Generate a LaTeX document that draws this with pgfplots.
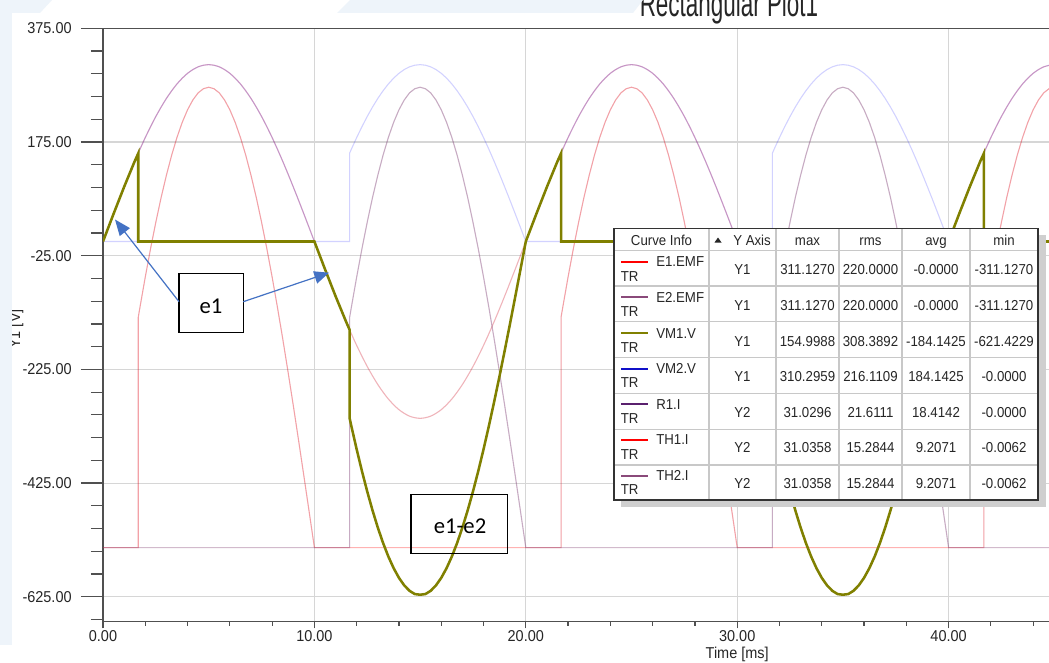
\documentclass[border=0pt]{standalone}
\usepackage{pgfplots}
\pgfplotsset{compat=1.18}
\usepackage{pgfplotstable}
\usepackage{fontspec}
\setmainfont{Liberation Sans}[FakeStretch=0.92]
\newfontfamily\calib{Carlito}
\usetikzlibrary{arrows.meta}

\definecolor{axisgray}{HTML}{505050}
\definecolor{gridgray}{HTML}{D6D6D6}
\definecolor{olivec}{HTML}{808000}
\definecolor{mauve}{HTML}{8A4A7A}
\definecolor{rpurple}{HTML}{5A206E}
\definecolor{vblue}{HTML}{1E1EFF}
\definecolor{lblue}{HTML}{1010C8}
\definecolor{arrowblue}{HTML}{4472C4}
\definecolor{bgblue}{HTML}{EEF4FA}
\definecolor{tgrid}{HTML}{C8C8C8}

\newcommand{\tickfont}{\fontsize{11.8pt}{13pt}\selectfont}
\newcommand{\tabfont}{\fontsize{10.8pt}{12pt}\selectfont}

% E1.EMF and E2.EMF (V)
\pgfplotstableread[row sep=\\]{
t e1 e2\\
0 0 0\\ 0.5 48.67 48.67\\ 1 96.14 96.14\\ 1.5 141.25 141.25\\ 2 182.87 182.87\\
2.5 220.00 220.00\\ 3 251.71 251.71\\ 3.5 277.21 277.21\\ 4 295.90 295.90\\ 4.5 307.30 307.30\\
5 311.13 311.13\\ 5.5 307.30 307.30\\ 6 295.90 295.90\\ 6.5 277.21 277.21\\ 7 251.71 251.71\\
7.5 220.00 220.00\\ 8 182.87 182.87\\ 8.5 141.25 141.25\\ 9 96.14 96.14\\ 9.5 48.67 48.67\\
10 0 0\\ 10.5 -48.67 -48.67\\ 11 -96.14 -96.14\\ 11.5 -141.25 -141.25\\ 12 -182.87 -182.87\\
12.5 -220.00 -220.00\\ 13 -251.71 -251.71\\ 13.5 -277.21 -277.21\\ 14 -295.90 -295.90\\ 14.5 -307.30 -307.30\\
15 -311.13 -311.13\\ 15.5 -307.30 -307.30\\ 16 -295.90 -295.90\\ 16.5 -277.21 -277.21\\ 17 -251.71 -251.71\\
17.5 -220.00 -220.00\\ 18 -182.87 -182.87\\ 18.5 -141.25 -141.25\\ 19 -96.14 -96.14\\ 19.5 -48.67 -48.67\\
20 0 0\\ 20.5 48.67 48.67\\ 21 96.14 96.14\\ 21.5 141.25 141.25\\ 22 182.87 182.87\\
22.5 220.00 220.00\\ 23 251.71 251.71\\ 23.5 277.21 277.21\\ 24 295.90 295.90\\ 24.5 307.30 307.30\\
25 311.13 311.13\\ 25.5 307.30 307.30\\ 26 295.90 295.90\\ 26.5 277.21 277.21\\ 27 251.71 251.71\\
27.5 220.00 220.00\\ 28 182.87 182.87\\ 28.5 141.25 141.25\\ 29 96.14 96.14\\ 29.5 48.67 48.67\\
30 0 0\\ 30.5 -48.67 -48.67\\ 31 -96.14 -96.14\\ 31.5 -141.25 -141.25\\ 32 -182.87 -182.87\\
32.5 -220.00 -220.00\\ 33 -251.71 -251.71\\ 33.5 -277.21 -277.21\\ 34 -295.90 -295.90\\ 34.5 -307.30 -307.30\\
35 -311.13 -311.13\\ 35.5 -307.30 -307.30\\ 36 -295.90 -295.90\\ 36.5 -277.21 -277.21\\ 37 -251.71 -251.71\\
37.5 -220.00 -220.00\\ 38 -182.87 -182.87\\ 38.5 -141.25 -141.25\\ 39 -96.14 -96.14\\ 39.5 -48.67 -48.67\\
40 0 0\\ 40.5 48.67 48.67\\ 41 96.14 96.14\\ 41.5 141.25 141.25\\ 42 182.87 182.87\\
42.5 220.00 220.00\\ 43 251.71 251.71\\ 43.5 277.21 277.21\\ 44 295.90 295.90\\ 44.5 307.30 307.30\\
45 311.13 311.13\\
}\emf

% VM2.V (V)
\pgfplotstableread[row sep=\\]{
t v\\
0 0\\ 1.667 0\\
1.667 155.56\\ 1.75 162.56\\ 2 182.87\\ 2.25 202.06\\ 2.5 220.00\\ 2.75 236.58\\ 3 251.71\\ 3.25 265.28\\ 3.5 277.21\\ 3.75 287.44\\ 4 295.90\\ 4.25 302.53\\ 4.5 307.30\\ 4.75 310.17\\ 5 311.13\\ 5.25 310.17\\ 5.5 307.30\\ 5.75 302.53\\ 6 295.90\\ 6.25 287.44\\ 6.5 277.21\\ 6.75 265.28\\ 7 251.71\\ 7.25 236.58\\ 7.5 220.00\\ 7.75 202.06\\ 8 182.87\\ 8.25 162.56\\ 8.5 141.25\\ 8.75 119.06\\ 9 96.14\\ 9.25 72.63\\ 9.5 48.67\\ 9.75 24.41\\ 10 0\\
11.667 0\\
11.667 155.56\\ 11.75 162.56\\ 12 182.87\\ 12.25 202.06\\ 12.5 220.00\\ 12.75 236.58\\ 13 251.71\\ 13.25 265.28\\ 13.5 277.21\\ 13.75 287.44\\ 14 295.90\\ 14.25 302.53\\ 14.5 307.30\\ 14.75 310.17\\ 15 311.13\\ 15.25 310.17\\ 15.5 307.30\\ 15.75 302.53\\ 16 295.90\\ 16.25 287.44\\ 16.5 277.21\\ 16.75 265.28\\ 17 251.71\\ 17.25 236.58\\ 17.5 220.00\\ 17.75 202.06\\ 18 182.87\\ 18.25 162.56\\ 18.5 141.25\\ 18.75 119.06\\ 19 96.14\\ 19.25 72.63\\ 19.5 48.67\\ 19.75 24.41\\ 20 0\\
21.667 0\\
21.667 155.56\\ 21.75 162.56\\ 22 182.87\\ 22.25 202.06\\ 22.5 220.00\\ 22.75 236.58\\ 23 251.71\\ 23.25 265.28\\ 23.5 277.21\\ 23.75 287.44\\ 24 295.90\\ 24.25 302.53\\ 24.5 307.30\\ 24.75 310.17\\ 25 311.13\\ 25.25 310.17\\ 25.5 307.30\\ 25.75 302.53\\ 26 295.90\\ 26.25 287.44\\ 26.5 277.21\\ 26.75 265.28\\ 27 251.71\\ 27.25 236.58\\ 27.5 220.00\\ 27.75 202.06\\ 28 182.87\\ 28.25 162.56\\ 28.5 141.25\\ 28.75 119.06\\ 29 96.14\\ 29.25 72.63\\ 29.5 48.67\\ 29.75 24.41\\ 30 0\\
31.667 0\\
31.667 155.56\\ 31.75 162.56\\ 32 182.87\\ 32.25 202.06\\ 32.5 220.00\\ 32.75 236.58\\ 33 251.71\\ 33.25 265.28\\ 33.5 277.21\\ 33.75 287.44\\ 34 295.90\\ 34.25 302.53\\ 34.5 307.30\\ 34.75 310.17\\ 35 311.13\\ 35.25 310.17\\ 35.5 307.30\\ 35.75 302.53\\ 36 295.90\\ 36.25 287.44\\ 36.5 277.21\\ 36.75 265.28\\ 37 251.71\\ 37.25 236.58\\ 37.5 220.00\\ 37.75 202.06\\ 38 182.87\\ 38.25 162.56\\ 38.5 141.25\\ 38.75 119.06\\ 39 96.14\\ 39.25 72.63\\ 39.5 48.67\\ 39.75 24.41\\ 40 0\\
41.667 0\\
41.667 155.56\\ 41.75 162.56\\ 42 182.87\\ 42.25 202.06\\ 42.5 220.00\\ 42.75 236.58\\ 43 251.71\\ 43.25 265.28\\ 43.5 277.21\\ 43.75 287.44\\ 44 295.90\\ 44.25 302.53\\ 44.5 307.30\\ 44.75 310.17\\ 45 311.13\\
}\vmtwo

% VM1.V (V)
\pgfplotstableread[row sep=\\]{
t v\\
0 0\\ 0.5 48.67\\ 1 96.14\\ 1.5 141.25\\ 1.667 155.00\\ 1.667 0\\
10 0\\ 10.5 -48.67\\ 11 -96.14\\ 11.5 -141.25\\ 11.667 -155.56\\
11.667 -311.13\\ 11.75 -325.13\\ 12 -365.75\\ 12.25 -404.12\\ 12.5 -440.00\\ 12.75 -473.17\\ 13 -503.41\\ 13.25 -530.56\\ 13.5 -554.43\\ 13.75 -574.89\\ 14 -591.80\\ 14.25 -605.07\\ 14.5 -614.60\\ 14.75 -620.34\\ 15 -621.42\\ 15.25 -620.34\\ 15.5 -614.60\\ 15.75 -605.07\\ 16 -591.80\\ 16.25 -574.89\\ 16.5 -554.43\\ 16.75 -530.56\\ 17 -503.41\\ 17.25 -473.17\\ 17.5 -440.00\\ 17.75 -404.12\\ 18 -365.75\\ 18.25 -325.13\\ 18.5 -282.50\\ 18.75 -238.13\\ 19 -192.28\\ 19.25 -145.26\\ 19.5 -97.35\\ 19.75 -48.82\\ 20 0\\
20.5 48.67\\ 21 96.14\\ 21.5 141.25\\ 21.667 155.00\\ 21.667 0\\
30 0\\ 30.5 -48.67\\ 31 -96.14\\ 31.5 -141.25\\ 31.667 -155.56\\
31.667 -311.13\\ 31.75 -325.13\\ 32 -365.75\\ 32.25 -404.12\\ 32.5 -440.00\\ 32.75 -473.17\\ 33 -503.41\\ 33.25 -530.56\\ 33.5 -554.43\\ 33.75 -574.89\\ 34 -591.80\\ 34.25 -605.07\\ 34.5 -614.60\\ 34.75 -620.34\\ 35 -621.42\\ 35.25 -620.34\\ 35.5 -614.60\\ 35.75 -605.07\\ 36 -591.80\\ 36.25 -574.89\\ 36.5 -554.43\\ 36.75 -530.56\\ 37 -503.41\\ 37.25 -473.17\\ 37.5 -440.00\\ 37.75 -404.12\\ 38 -365.75\\ 38.25 -325.13\\ 38.5 -282.50\\ 38.75 -238.13\\ 39 -192.28\\ 39.25 -145.26\\ 39.5 -97.35\\ 39.75 -48.82\\ 40 0\\
40.5 48.67\\ 41 96.14\\ 41.5 141.25\\ 41.667 155.00\\ 41.667 0\\ 45 0\\
}\vmone

% TH1.I, TH2.I, R1.I (A), on Y2
\pgfplotstableread[row sep=\\]{
t th1 th2 r1\\
0 0 0 0\\ 1.667 0 0 0\\
1.667 15.52 0 15.52\\ 1.75 16.21 0 16.21\\ 2 18.24 0 18.24\\ 2.25 20.15 0 20.15\\ 2.5 21.94 0 21.94\\ 2.75 23.60 0 23.60\\ 3 25.10 0 25.10\\ 3.25 26.46 0 26.46\\ 3.5 27.65 0 27.65\\ 3.75 28.67 0 28.67\\ 4 29.51 0 29.51\\ 4.25 30.17 0 30.17\\ 4.5 30.65 0 30.65\\ 4.75 30.93 0 30.93\\ 5 31.03 0 31.03\\ 5.25 30.93 0 30.93\\ 5.5 30.65 0 30.65\\ 5.75 30.17 0 30.17\\ 6 29.51 0 29.51\\ 6.25 28.67 0 28.67\\ 6.5 27.65 0 27.65\\ 6.75 26.46 0 26.46\\ 7 25.10 0 25.10\\ 7.25 23.60 0 23.60\\ 7.5 21.94 0 21.94\\ 7.75 20.15 0 20.15\\ 8 18.24 0 18.24\\ 8.25 16.21 0 16.21\\ 8.5 14.09 0 14.09\\ 8.75 11.87 0 11.87\\ 9 9.59 0 9.59\\ 9.25 7.24 0 7.24\\ 9.5 4.85 0 4.85\\ 9.75 2.43 0 2.43\\ 10 0 0 0\\
11.667 0 0 0\\
11.667 0 15.52 15.52\\ 11.75 0 16.21 16.21\\ 12 0 18.24 18.24\\ 12.25 0 20.15 20.15\\ 12.5 0 21.94 21.94\\ 12.75 0 23.60 23.60\\ 13 0 25.10 25.10\\ 13.25 0 26.46 26.46\\ 13.5 0 27.65 27.65\\ 13.75 0 28.67 28.67\\ 14 0 29.51 29.51\\ 14.25 0 30.17 30.17\\ 14.5 0 30.65 30.65\\ 14.75 0 30.93 30.93\\ 15 0 31.03 31.03\\ 15.25 0 30.93 30.93\\ 15.5 0 30.65 30.65\\ 15.75 0 30.17 30.17\\ 16 0 29.51 29.51\\ 16.25 0 28.67 28.67\\ 16.5 0 27.65 27.65\\ 16.75 0 26.46 26.46\\ 17 0 25.10 25.10\\ 17.25 0 23.60 23.60\\ 17.5 0 21.94 21.94\\ 17.75 0 20.15 20.15\\ 18 0 18.24 18.24\\ 18.25 0 16.21 16.21\\ 18.5 0 14.09 14.09\\ 18.75 0 11.87 11.87\\ 19 0 9.59 9.59\\ 19.25 0 7.24 7.24\\ 19.5 0 4.85 4.85\\ 19.75 0 2.43 2.43\\ 20 0 0 0\\
21.667 0 0 0\\
21.667 15.52 0 15.52\\ 21.75 16.21 0 16.21\\ 22 18.24 0 18.24\\ 22.25 20.15 0 20.15\\ 22.5 21.94 0 21.94\\ 22.75 23.60 0 23.60\\ 23 25.10 0 25.10\\ 23.25 26.46 0 26.46\\ 23.5 27.65 0 27.65\\ 23.75 28.67 0 28.67\\ 24 29.51 0 29.51\\ 24.25 30.17 0 30.17\\ 24.5 30.65 0 30.65\\ 24.75 30.93 0 30.93\\ 25 31.03 0 31.03\\ 25.25 30.93 0 30.93\\ 25.5 30.65 0 30.65\\ 25.75 30.17 0 30.17\\ 26 29.51 0 29.51\\ 26.25 28.67 0 28.67\\ 26.5 27.65 0 27.65\\ 26.75 26.46 0 26.46\\ 27 25.10 0 25.10\\ 27.25 23.60 0 23.60\\ 27.5 21.94 0 21.94\\ 27.75 20.15 0 20.15\\ 28 18.24 0 18.24\\ 28.25 16.21 0 16.21\\ 28.5 14.09 0 14.09\\ 28.75 11.87 0 11.87\\ 29 9.59 0 9.59\\ 29.25 7.24 0 7.24\\ 29.5 4.85 0 4.85\\ 29.75 2.43 0 2.43\\ 30 0 0 0\\
31.667 0 0 0\\
31.667 0 15.52 15.52\\ 31.75 0 16.21 16.21\\ 32 0 18.24 18.24\\ 32.25 0 20.15 20.15\\ 32.5 0 21.94 21.94\\ 32.75 0 23.60 23.60\\ 33 0 25.10 25.10\\ 33.25 0 26.46 26.46\\ 33.5 0 27.65 27.65\\ 33.75 0 28.67 28.67\\ 34 0 29.51 29.51\\ 34.25 0 30.17 30.17\\ 34.5 0 30.65 30.65\\ 34.75 0 30.93 30.93\\ 35 0 31.03 31.03\\ 35.25 0 30.93 30.93\\ 35.5 0 30.65 30.65\\ 35.75 0 30.17 30.17\\ 36 0 29.51 29.51\\ 36.25 0 28.67 28.67\\ 36.5 0 27.65 27.65\\ 36.75 0 26.46 26.46\\ 37 0 25.10 25.10\\ 37.25 0 23.60 23.60\\ 37.5 0 21.94 21.94\\ 37.75 0 20.15 20.15\\ 38 0 18.24 18.24\\ 38.25 0 16.21 16.21\\ 38.5 0 14.09 14.09\\ 38.75 0 11.87 11.87\\ 39 0 9.59 9.59\\ 39.25 0 7.24 7.24\\ 39.5 0 4.85 4.85\\ 39.75 0 2.43 2.43\\ 40 0 0 0\\
41.667 0 0 0\\
41.667 15.52 0 15.52\\ 41.75 16.21 0 16.21\\ 42 18.24 0 18.24\\ 42.25 20.15 0 20.15\\ 42.5 21.94 0 21.94\\ 42.75 23.60 0 23.60\\ 43 25.10 0 25.10\\ 43.25 26.46 0 26.46\\ 43.5 27.65 0 27.65\\ 43.75 28.67 0 28.67\\ 44 29.51 0 29.51\\ 44.25 30.17 0 30.17\\ 44.5 30.65 0 30.65\\ 44.75 30.93 0 30.93\\ 45 31.03 0 31.03\\
}\currents

\pgfplotsset{
  plotframe/.style={
    at={(77.25pt,30.2pt)}, anchor=south west,
    scale only axis, width=951.3pt, height=445.05pt,
    xmin=0, xmax=60,
  },
}

\begin{document}
\begin{tikzpicture}
\fill[white] (0,0) rectangle (786.75pt,496.5pt);

% Y1 axis: frame, grid, EMFs and load voltage
\begin{axis}[plotframe,
  ymin=-669, ymax=375,
  axis x line*=box, axis y line*=left,
  axis line style={draw=axisgray, line width=1.1pt},
  xtick={0,10,...,60}, xticklabels={,,,,,,}, xtick style={draw=none},
  ytick={-625,-425,-225,-25,175,375},
  minor ytick={-665,-585,-545,-505,-465,-385,-345,-305,-265,-185,-145,-105,-65,15,55,95,135,215,255,295,335},
  xmajorgrids, ymajorgrids,
  major grid style={gridgray, line width=0.8pt},
  tick align=outside,
  major tick length=16.5pt, minor tick length=9pt,
  ytick style={axisgray, line width=0.9pt},
  /pgf/number format/assume math mode=true,
  yticklabel style={font=\tickfont, text=black!85, xshift=-3.5pt,
    /pgf/number format/.cd, fixed, fixed zerofill, precision=2},
]
\addplot[red, draw opacity=0.23, line width=0.8pt, smooth] table[x=t,y=e1]{\emf};
\addplot[mauve, draw opacity=0.13, line width=0.8pt, smooth] table[x=t,y=e2]{\emf};
\addplot[vblue, draw opacity=0.2, line width=0.8pt] table[x=t,y=v]{\vmtwo};
\end{axis}

% Y2 axis (hidden): currents
\begin{axis}[plotframe, hide axis, ymin=-5, ymax=35]
\addplot[rpurple, draw opacity=0.1, line width=0.8pt] table[x=t,y=r1]{\currents};
\addplot[red, draw opacity=0.3, line width=0.8pt] table[x=t,y=th1]{\currents};
\addplot[mauve, draw opacity=0.38, line width=0.8pt] table[x=t,y=th2]{\currents};
\end{axis}

% Y1 again: VM1 on top, x ticks and labels
\begin{axis}[plotframe,
  ymin=-669, ymax=375,
  axis x line*=bottom, axis y line=none,
  x axis line style={draw=none},
  ytick=\empty,
  xtick={0,10,...,60}, minor x tick num=4,
  tick align=outside,
  major tick length=5pt, minor tick length=3pt,
  xtick style={axisgray, line width=0.9pt},
  /pgf/number format/assume math mode=true,
  xticklabel style={font=\tickfont, text=black!85, yshift=2pt,
    /pgf/number format/.cd, fixed, fixed zerofill, precision=2},
  xlabel={Time [ms]},
  xlabel style={font=\tickfont, text=black!85, yshift=3pt},
]
\addplot[olivec, line width=1.9pt] table[x=t,y=v]{\vmone};
\end{axis}

% overlays in pixel coordinates (origin top-left)
\begin{scope}[x=0.75pt,y=-0.75pt,shift={(0,-662)}]
  % annotation boxes and arrows
  \draw[black, line width=0.9pt] (179,273.3) rectangle (243.3,332.7);
  \node[anchor=base, font=\calib\fontsize{17pt}{19pt}\selectfont, inner sep=0] at (211,313) {e1};
  \draw[black, line width=0.9pt] (411,494.3) rectangle (507.3,553.3);
  \node[anchor=base, font=\calib\fontsize{17pt}{19pt}\selectfont, inner sep=0] at (460,533) {e1-e2};
  \draw[arrowblue, line width=0.9pt, -{Triangle[length=12pt,width=9.5pt]}] (179,301.7) -- (115,219.5);
  \draw[arrowblue, line width=0.9pt, -{Triangle[length=11pt,width=9.5pt]}] (243.3,301.7) -- (329,272.7);

  % curve info table
  \fill[gray!38] (621,235) rectangle (1046,507);
  \fill[white] (614,228.3) rectangle (1038,500);
  \foreach \yy in {250.7,286,321.7,357.3,393.3,429.3,465}
    \draw[tgrid, line width=0.8pt] (614,\yy) -- (1038,\yy);
  \foreach \xx in {709,776,839,902,970}
    \draw[tgrid, line width=0.8pt] (\xx,228.3) -- (\xx,500);
  \draw[black!80, line width=1pt] (614,228.3) rectangle (1038,500);
  \begin{scope}[every node/.style={font=\tabfont, text=black!85, inner sep=0}]
    \node[anchor=base] at (661.5,245.5) {Curve Info};
    \fill[black!85] (714.5,242.5) -- (721.5,242.5) -- (718,237.5) -- cycle;
    \node[anchor=base west] at (733,245.5) {Y Axis};
    \node[anchor=base] at (807.5,245.5) {max};
    \node[anchor=base] at (870.5,245.5) {rms};
    \node[anchor=base] at (936,245.5) {avg};
    \node[anchor=base] at (1004,245.5) {min};
    \foreach \nm/\col/\ax/\mx/\rm/\av/\mn [count=\i from 0] in {
      E1.EMF/red/Y1/311.1270/220.0000/-0.0000/-311.1270,
      E2.EMF/mauve/Y1/311.1270/220.0000/-0.0000/-311.1270,
      VM1.V/olivec/Y1/154.9988/308.3892/-184.1425/-621.4229,
      VM2.V/lblue/Y1/310.2959/216.1109/184.1425/-0.0000,
      R1.I/rpurple/Y2/31.0296/21.6111/18.4142/-0.0000,
      TH1.I/red/Y2/31.0358/15.2844/9.2071/-0.0062,
      TH2.I/mauve/Y2/31.0358/15.2844/9.2071/-0.0062}{
      \pgfmathsetmacro{\rt}{250.7+35.65*\i}
      \draw[\col, line width=1.6pt] (621,\rt+11) -- (648,\rt+11);
      \node[anchor=base west] at (656,\rt+16) {\nm};
      \node[anchor=base west] at (620.5,\rt+30.3) {TR};
      \node[anchor=base] at (742.5,\rt+24) {\ax};
      \node[anchor=base] at (807.5,\rt+24) {\mx};
      \node[anchor=base] at (870.5,\rt+24) {\rm};
      \node[anchor=base] at (936,\rt+24) {\av};
      \node[anchor=base] at (1004,\rt+24) {\mn};
    }
  \end{scope}

  % title (cut at the top edge) and y label
  \node[anchor=base, font=\fontsize{18.3pt}{20pt}\selectfont, text=black!85, inner sep=0] at (729,17) {\scalebox{1}[1.5]{Rectangular Plot1}};
  \node[rotate=90, anchor=base, font=\tickfont, text=black!85, inner sep=0] at (20,329) {Y1 [V]};

  % slide background bits
  \fill[bgblue] (0,0) rectangle (12,645);
  \fill[bgblue] (0,0) -- (52,0) -- (40,13) -- (0,13) -- cycle;
  \fill[bgblue] (350,0) -- (643,0) -- (633,13) -- (337,13) -- cycle;
\end{scope}

\pgfresetboundingbox
\path[use as bounding box] (0,0) rectangle (786.75pt,496.5pt);
\end{tikzpicture}
\end{document}
